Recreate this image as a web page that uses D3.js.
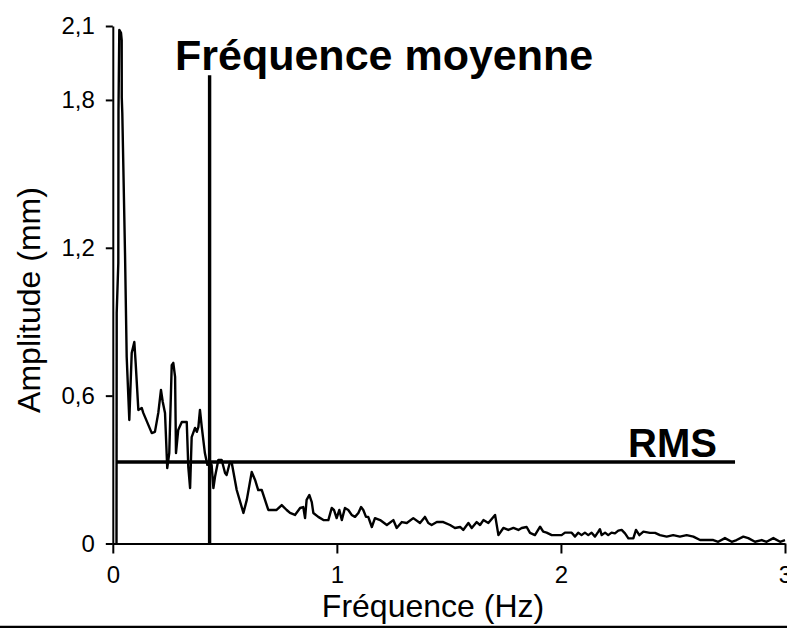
<!DOCTYPE html>
<html>
<head>
<meta charset="utf-8">
<script src="https://cdn.jsdelivr.net/npm/d3@7"></script>
<style>
  html, body { margin: 0; padding: 0; background: #fff; }
  svg { display: block; }
  text { font-family: "Liberation Sans", Arial, Helvetica, sans-serif; fill: #000; }
</style>
</head>
<body>
<svg id="chart" width="787" height="628"></svg>
<script>
// ---- Data ----
const freqHz = [
  0.0165, 0.0174, 0.0246, 0.0254, 0.029, 0.0366, 0.0397, 0.0400, 0.0424, 0.0545,
  0.062, 0.0737, 0.0844, 0.096, 0.102, 0.114, 0.129, 0.136, 0.174, 0.188,
  0.203, 0.215, 0.223, 0.233, 0.243, 0.252, 0.263, 0.27, 0.278, 0.282,
  0.292, 0.308, 0.33, 0.337, 0.345, 0.352, 0.367, 0.375, 0.382, 0.389,
  0.397, 0.411, 0.422, 0.431, 0.441, 0.449, 0.456, 0.471, 0.486, 0.501,
  0.508, 0.523, 0.531, 0.553, 0.583, 0.598, 0.62, 0.635, 0.649, 0.665,
  0.694, 0.731, 0.754, 0.776, 0.791, 0.813, 0.836, 0.85, 0.858, 0.865,
  0.877, 0.888, 0.895, 0.917, 0.94, 0.962, 0.977, 0.987, 0.999, 1.011,
  1.022, 1.036, 1.051, 1.066, 1.081, 1.096, 1.108, 1.118, 1.13, 1.14,
  1.156, 1.17, 1.193, 1.223, 1.252, 1.267, 1.29, 1.312, 1.341, 1.371,
  1.393, 1.408, 1.423, 1.446, 1.475, 1.505, 1.527, 1.55, 1.564, 1.587,
  1.602, 1.624, 1.639, 1.654, 1.676, 1.706, 1.721, 1.743, 1.765, 1.788,
  1.81, 1.825, 1.847, 1.862, 1.884, 1.907, 1.921, 1.936, 1.959, 2.003,
  2.018, 2.048, 2.063, 2.077, 2.092, 2.107, 2.122, 2.137, 2.152, 2.167,
  2.174, 2.182, 2.197, 2.211, 2.226, 2.241, 2.256, 2.271, 2.286, 2.301,
  2.323, 2.335, 2.35, 2.368, 2.397, 2.42, 2.442, 2.472, 2.501, 2.531,
  2.561, 2.591, 2.621, 2.68, 2.702, 2.732, 2.762, 2.784, 2.814, 2.836,
  2.866, 2.896, 2.918, 2.948, 2.978, 3.0
];
const amplitudeMm = [
  0, 0.935, 1.138, 1.759, 2.084, 2.072, 2.043, 1.81, 1.747, 1.179,
  0.757, 0.501, 0.773, 0.818, 0.733, 0.542, 0.55, 0.53, 0.448, 0.453,
  0.53, 0.623, 0.574, 0.53, 0.306, 0.367, 0.724, 0.733, 0.676, 0.367,
  0.461, 0.493, 0.493, 0.31, 0.225, 0.432, 0.469, 0.453, 0.473, 0.542,
  0.473, 0.367, 0.319, 0.331, 0.319, 0.225, 0.27, 0.339, 0.339, 0.286,
  0.278, 0.331, 0.327, 0.217, 0.124, 0.177, 0.29, 0.258, 0.217, 0.217,
  0.136, 0.136, 0.156, 0.136, 0.124, 0.116, 0.144, 0.148, 0.103, 0.177,
  0.197, 0.168, 0.124, 0.108, 0.095, 0.095, 0.144, 0.136, 0.103, 0.136,
  0.095, 0.144, 0.136, 0.116, 0.108, 0.124, 0.148, 0.136, 0.108, 0.108,
  0.067, 0.103, 0.095, 0.075, 0.095, 0.063, 0.087, 0.083, 0.103, 0.083,
  0.108, 0.083, 0.075, 0.087, 0.087, 0.075, 0.063, 0.067, 0.055, 0.083,
  0.063, 0.087, 0.075, 0.095, 0.083, 0.116, 0.034, 0.063, 0.055, 0.063,
  0.055, 0.063, 0.067, 0.043, 0.034, 0.068, 0.048, 0.044, 0.034, 0.034,
  0.044, 0.044, 0.028, 0.044, 0.034, 0.044, 0.034, 0.044, 0.028, 0.048,
  0.058, 0.034, 0.044, 0.034, 0.044, 0.041, 0.052, 0.055, 0.041, 0.021,
  0.021, 0.055, 0.034, 0.048, 0.043, 0.043, 0.034, 0.028, 0.034, 0.028,
  0.034, 0.028, 0.014, 0.014, 0.007, 0.022, 0.007, 0.014, 0.028, 0.022,
  0.007, 0.014, 0.007, 0.022, 0.007, 0.014
];
const meanFreqHz = 0.432;      // "Fréquence moyenne"
const meanFreqTop = 1.9;       // top of the vertical marker (mm)
const rmsMm = 0.331;           // RMS level
const rmsStartHz = 0.015;
const rmsEndHz = 2.777;
const xTicks = [0, 1, 2, 3];
const xTickLabels = ["0", "1", "2", "3"];
const yTicks = [0, 0.6, 1.2, 1.8, 2.1];
const yTickLabels = ["0", "0,6", "1,2", "1,8", "2,1"];
const titleText = "Fréquence moyenne";
const rmsText = "RMS";
const xTitle = "Fréquence (Hz)";
const yTitle = "Amplitude (mm)";

// ---- Drawing ----
const svg = d3.select("#chart");
const x = d3.scaleLinear().domain([0, 3]).range([112.8, 785]);
const y = d3.scaleLinear().domain([0, 2.1]).range([543.5, 26]);
const FONT = "'Liberation Sans', Arial, sans-serif";

// y axis
const yAxis = d3.axisLeft(y)
  .tickValues(yTicks)
  .tickSize(7)
  .tickSizeOuter(0)
  .tickPadding(11)
  .tickFormat((d, i) => yTickLabels[i]);
const gy = svg.append("g").attr("transform", `translate(${x(0)},0)`).call(yAxis);
gy.selectAll("path.domain").attr("stroke", "#000").attr("stroke-width", 2);
gy.selectAll(".tick line").attr("stroke", "#000").attr("stroke-width", 2);
gy.selectAll(".tick text").style("font-size", "24px").style("font-family", FONT).attr("fill", "#111");

// x axis
const xAxis = d3.axisBottom(x)
  .tickValues(xTicks)
  .tickSize(10)
  .tickSizeOuter(0)
  .tickPadding(12)
  .tickFormat((d, i) => xTickLabels[i]);
const gx = svg.append("g").attr("transform", `translate(0,${y(0)})`).call(xAxis);
gx.selectAll("path.domain").attr("stroke", "#000").attr("stroke-width", 2);
gx.selectAll(".tick line").attr("stroke", "#000").attr("stroke-width", 2);
gx.selectAll(".tick text").style("font-size", "24px").style("font-family", FONT).attr("fill", "#111");

// spectrum line
const data = freqHz.map((f, i) => ({ f, a: amplitudeMm[i] }));
svg.append("path")
  .datum(data)
  .attr("fill", "none")
  .attr("stroke", "#000")
  .attr("stroke-width", 2.4)
  .attr("stroke-linejoin", "round")
  .attr("d", d3.line().x(d => x(d.f)).y(d => y(d.a)));

// mean frequency marker
svg.append("line")
  .attr("x1", x(meanFreqHz)).attr("x2", x(meanFreqHz))
  .attr("y1", y(0)).attr("y2", y(meanFreqTop))
  .attr("stroke", "#000").attr("stroke-width", 3.4);

// RMS marker
svg.append("line")
  .attr("x1", x(rmsStartHz)).attr("x2", x(rmsEndHz))
  .attr("y1", y(rmsMm)).attr("y2", y(rmsMm))
  .attr("stroke", "#000").attr("stroke-width", 3.6);

// annotations
svg.append("text")
  .attr("x", 175).attr("y", 70)
  .style("font-size", "43px").style("font-weight", "bold")
  .text(titleText);
svg.append("text")
  .attr("x", 628).attr("y", 457)
  .style("font-size", "40px").style("font-weight", "bold")
  .text(rmsText);

// axis titles
svg.append("text")
  .attr("x", 433).attr("y", 617)
  .attr("text-anchor", "middle")
  .style("font-size", "32px")
  .text(xTitle);
svg.append("text")
  .attr("transform", "translate(40,300) rotate(-90)")
  .attr("text-anchor", "middle")
  .style("font-size", "32px")
  .text(yTitle);

// bottom rule
svg.append("line")
  .attr("x1", 0).attr("x2", 787)
  .attr("y1", 627).attr("y2", 627)
  .attr("stroke", "#000").attr("stroke-width", 2.5);
</script>
</body>
</html>
